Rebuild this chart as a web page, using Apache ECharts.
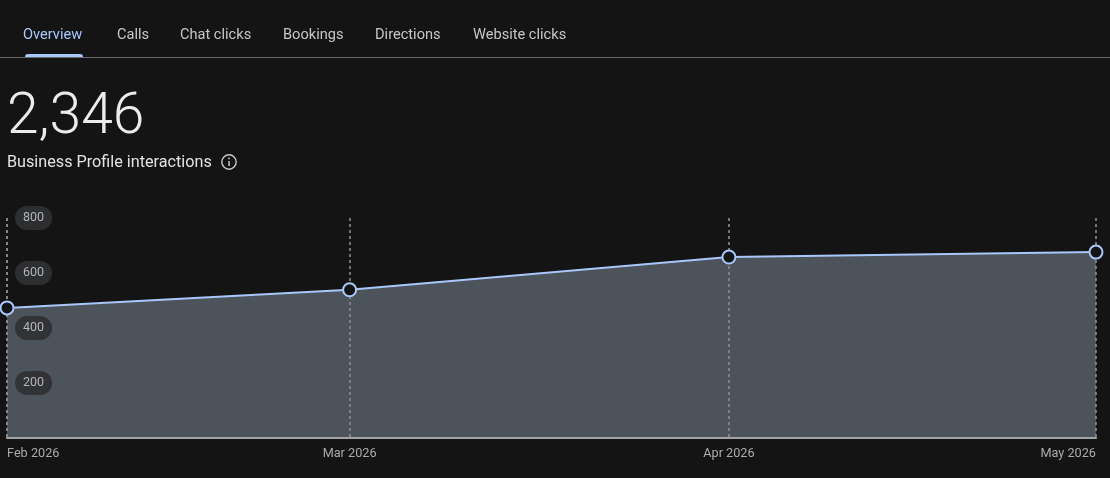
<!DOCTYPE html>
<html>
<head>
<meta charset="utf-8">
<style>
  html, body { margin: 0; padding: 0; background: #141415; }
  #chart { width: 1110px; height: 478px; }
</style>
<script src="https://cdn.jsdelivr.net/npm/echarts@6/dist/echarts.min.js"></script>
</head>
<body>
<div id="chart"></div>
<script>
// Monthly Business Profile interactions
const months = ['2026-02-01', '2026-03-01', '2026-04-01', '2026-05-01'];
const interactions = [473, 539, 658, 676];
const yTicks = [200, 400, 600, 800];
const tabs = ['Overview', 'Calls', 'Chat clicks', 'Bookings', 'Directions', 'Website clicks'];
const tabX = [23, 117, 180, 283, 375, 473];
const totalLabel = '2,346';
const metricLabel = 'Business Profile interactions';

const FONT = 'Roboto, "Noto Sans", sans-serif';
const ACCENT = '#a8c7fa';
const BG = '#141415';
const DAY = 86400000;

const toTime = (s) => Date.parse(s + 'T00:00:00Z');
const monthTimes = months.map(toTime);
const points = monthTimes.map((t, i) => [t, interactions[i]]);
const monthNames = ['Jan','Feb','Mar','Apr','May','Jun','Jul','Aug','Sep','Oct','Nov','Dec'];

const tabGraphics = tabs.map((name, i) => ({
  type: 'text', left: tabX[i], top: 28, z: 10,
  style: { text: name, font: '400 14.6px ' + FONT, fill: i === 0 ? ACCENT : '#c7c7c7' }
}));

const chart = echarts.init(document.getElementById('chart'), null, { renderer: 'canvas' });
chart.setOption({
  animation: false,
  backgroundColor: BG,
  useUTC: true,
  grid: { left: 7, right: 14, top: 218, bottom: 40 },
  xAxis: {
    type: 'time',
    min: monthTimes[0],
    max: monthTimes[monthTimes.length - 1],
    minInterval: 28 * DAY,
    z: 2,
    axisLine: { show: true, lineStyle: { color: '#a3a3a3', width: 2 } },
    axisTick: { show: false },
    splitLine: { show: true, showMinLine: true, showMaxLine: true, lineStyle: { color: '#8c8c8c', type: [3, 3], width: 1.6 } },
    axisLabel: {
      color: '#ababab',
      fontFamily: FONT,
      fontSize: 12.7,
      margin: 9,
      hideOverlap: false,
      alignMinLabel: 'left',
      alignMaxLabel: 'right',
      showMinLabel: true,
      showMaxLabel: true,
      formatter: (v) => {
        const d = new Date(v);
        return monthNames[d.getUTCMonth()] + ' ' + d.getUTCFullYear();
      }
    }
  },
  yAxis: {
    type: 'value',
    min: 0,
    max: 800,
    interval: 200,
    z: 3,
    axisLine: { show: false },
    axisTick: { show: false },
    splitLine: { show: false },
    axisLabel: {
      inside: true,
      customValues: yTicks,
      margin: 8,
      color: '#b4b4b4',
      fontFamily: FONT,
      fontSize: 12.5,
      lineHeight: 14,
      backgroundColor: 'rgba(48,49,51,0.92)',
      borderRadius: 12,
      padding: [6, 8, 4, 8]
    }
  },
  series: [
    {
      type: 'line',
      z: 1,
      data: points,
      symbol: 'none',
      lineStyle: { width: 0 },
      areaStyle: { color: '#4d535b', opacity: 1 },
      silent: true
    },
    {
      type: 'line',
      z: 4,
      data: points,
      clip: false,
      symbol: 'circle',
      symbolSize: 13,
      itemStyle: { color: BG, borderColor: ACCENT, borderWidth: 2, opacity: 1 },
      lineStyle: { color: ACCENT, width: 2 }
    }
  ],
  graphic: [
    ...tabGraphics,
    { type: 'rect', z: 10, shape: { x: 25, y: 54, width: 58, height: 3, r: [3, 3, 0, 0] }, style: { fill: ACCENT } },
    { type: 'rect', z: 9, shape: { x: 0, y: 57, width: 1110, height: 1 }, style: { fill: '#6b6b6d' } },
    { type: 'text', left: 7, top: 90, z: 10, style: { text: totalLabel, font: '300 57px ' + FONT, fill: '#ececee' } },
    { type: 'text', left: 7, top: 155, z: 10, style: { text: metricLabel, font: '400 16.2px ' + FONT, fill: '#e3e3e3' } },
    { type: 'circle', z: 10, shape: { cx: 229, cy: 162, r: 7.2 }, style: { fill: 'none', stroke: '#c8c8c8', lineWidth: 1.4 } },
    { type: 'rect', z: 10, shape: { x: 228.3, y: 161, width: 1.5, height: 5 }, style: { fill: '#c8c8c8' } },
    { type: 'circle', z: 10, shape: { cx: 229, cy: 158.4, r: 0.9 }, style: { fill: '#c8c8c8' } }
  ]
});
</script>
</body>
</html>
